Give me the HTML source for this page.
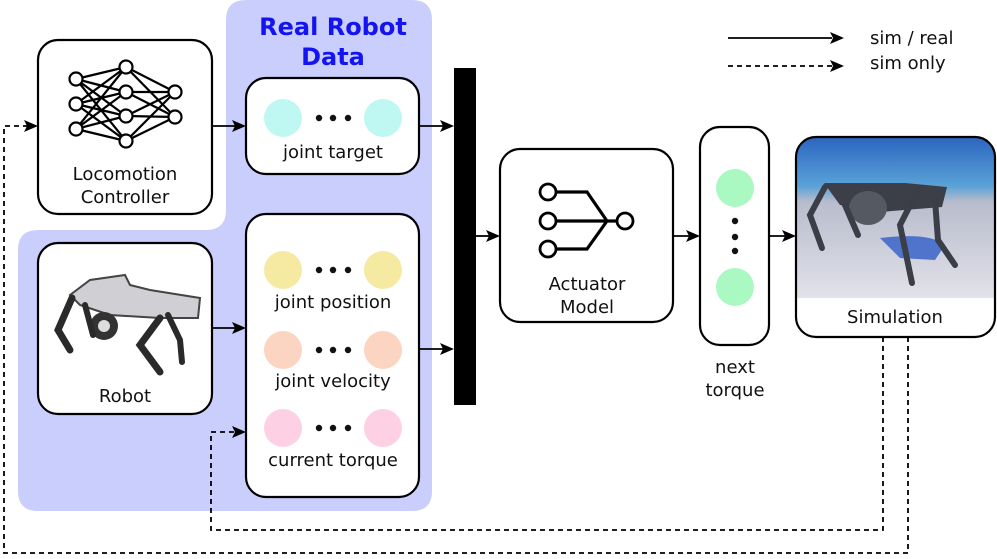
<!DOCTYPE html>
<html><head><meta charset="utf-8"><style>
html,body{margin:0;padding:0;background:#fff;}
svg{display:block;}
text{font-family:"DejaVu Sans","Liberation Sans",sans-serif;font-size:18px;fill:#111;}
</style></head><body>
<svg width="997" height="559" viewBox="0 0 997 559" xmlns="http://www.w3.org/2000/svg">
<defs>
<linearGradient id="sky" x1="0" y1="0" x2="0" y2="1"><stop offset="0" stop-color="#2c66c0"/><stop offset="0.3" stop-color="#5aa2d8"/><stop offset="0.4" stop-color="#b8bccc"/><stop offset="1" stop-color="#e2e2ea"/></linearGradient>
<clipPath id="simclip"><rect x="797" y="138" width="197" height="198" rx="18"/></clipPath>
</defs>
<path d="M246,0 H412 Q432,0 432,20 V491 Q432,511 412,511 H38 Q18,511 18,491 V250 Q18,230 38,230 H206 Q226,230 226,210 V20 Q226,0 246,0 Z" fill="#c9cefc"/>
<text x="333" y="35" text-anchor="middle" style="font-size:24px;font-weight:bold;fill:#1414f0">Real Robot</text>
<text x="333" y="65" text-anchor="middle" style="font-size:24px;font-weight:bold;fill:#1414f0">Data</text>

<line x1="728" y1="38" x2="832" y2="38" stroke="#000" stroke-width="1.8"/>
<line x1="728" y1="66" x2="832" y2="66" stroke="#000" stroke-width="1.8" stroke-dasharray="5,4"/>
<text x="870" y="44">sim / real</text>
<text x="870" y="69">sim only</text>

<rect x="38" y="40" width="174" height="174" rx="20" fill="#fff" stroke="#000" stroke-width="2.2"/>
<g stroke="#000" stroke-width="2.2" fill="none">
<path d="M76,79 L126,67 M76,79 L126,92 M76,79 L126,116 M76,79 L126,141 M76,104 L126,67 M76,104 L126,92 M76,104 L126,116 M76,104 L126,141 M76,129 L126,67 M76,129 L126,92 M76,129 L126,116 M76,129 L126,141 M126,67 L175,92 M126,67 L175,117 M126,92 L175,92 M126,92 L175,117 M126,116 L175,92 M126,116 L175,117 M126,141 L175,92 M126,141 L175,117"/>
</g>
<g fill="#fff" stroke="#000" stroke-width="2.2">
<circle cx="76" cy="79" r="6.5"/><circle cx="76" cy="104" r="6.5"/><circle cx="76" cy="129" r="6.5"/>
<circle cx="126" cy="67" r="6.5"/><circle cx="126" cy="92" r="6.5"/><circle cx="126" cy="116" r="6.5"/><circle cx="126" cy="141" r="6.5"/>
<circle cx="175" cy="92" r="6.5"/><circle cx="175" cy="117" r="6.5"/>
</g>
<text x="125" y="180" text-anchor="middle">Locomotion</text>
<text x="125" y="203" text-anchor="middle">Controller</text>

<rect x="246" y="78" width="173" height="96" rx="20" fill="#fff" stroke="#000" stroke-width="2.2"/>
<circle cx="283" cy="118" r="19" fill="#bff8f2"/><circle cx="383" cy="118" r="19" fill="#bff8f2"/>
<g fill="#111"><circle cx="319" cy="118" r="3.2"/><circle cx="333" cy="118" r="3.2"/><circle cx="348" cy="118" r="3.2"/></g>
<text x="333" y="158" text-anchor="middle">joint target</text>

<rect x="38" y="243" width="174" height="171" rx="20" fill="#fff" stroke="#000" stroke-width="2.2"/>
<g>
<path d="M70,295 L90,280 L125,275 L130,285 L150,290 L200,298 L198,318 L160,318 L110,315 L80,305 Z" fill="#d0d0d4" stroke="#444" stroke-width="2"/>
<circle cx="104" cy="326" r="14" fill="#333"/><circle cx="104" cy="326" r="6" fill="#ddd"/>
<g stroke="#2a2a2a" stroke-linecap="round" fill="none">
<path d="M72,298 L58,330 L70,350" stroke-width="7"/>
<path d="M85,305 L93,335" stroke-width="6"/>
<path d="M160,318 L140,345 L160,372" stroke-width="7"/>
<path d="M168,315 L180,340 L182,362" stroke-width="6"/>
</g>
</g>
<text x="125" y="402" text-anchor="middle">Robot</text>

<rect x="246" y="214" width="173" height="283" rx="20" fill="#fff" stroke="#000" stroke-width="2.2"/>
<circle cx="283" cy="270" r="19" fill="#f6e9a2"/><circle cx="383" cy="270" r="19" fill="#f6e9a2"/>
<g fill="#111"><circle cx="319" cy="270" r="3.2"/><circle cx="333" cy="270" r="3.2"/><circle cx="348" cy="270" r="3.2"/></g>
<text x="333" y="308" text-anchor="middle">joint position</text>
<circle cx="283" cy="350" r="19" fill="#fcd5c2"/><circle cx="383" cy="350" r="19" fill="#fcd5c2"/>
<g fill="#111"><circle cx="319" cy="350" r="3.2"/><circle cx="333" cy="350" r="3.2"/><circle cx="348" cy="350" r="3.2"/></g>
<text x="333" y="387" text-anchor="middle">joint velocity</text>
<circle cx="283" cy="428" r="19" fill="#fdd0e3"/><circle cx="383" cy="428" r="19" fill="#fdd0e3"/>
<g fill="#111"><circle cx="319" cy="428" r="3.2"/><circle cx="333" cy="428" r="3.2"/><circle cx="348" cy="428" r="3.2"/></g>
<text x="333" y="466" text-anchor="middle">current torque</text>

<rect x="454" y="68" width="22" height="337" fill="#000"/>

<rect x="500" y="149" width="173" height="173" rx="20" fill="#fff" stroke="#000" stroke-width="2.2"/>
<g stroke="#000" stroke-width="3.2" fill="none">
<path d="M548,192 H587 L607,221 M548,221 H617 M548,249 H587 L607,221"/>
</g>
<g fill="#fff" stroke="#000" stroke-width="2.8">
<circle cx="548" cy="192" r="8"/><circle cx="548" cy="221" r="8"/><circle cx="548" cy="249" r="8"/><circle cx="625" cy="221" r="8"/>
</g>
<text x="587" y="290" text-anchor="middle">Actuator</text>
<text x="587" y="313" text-anchor="middle">Model</text>

<rect x="700" y="127" width="69" height="218" rx="20" fill="#fff" stroke="#000" stroke-width="2.2"/>
<circle cx="735" cy="188" r="19" fill="#aaf8c2"/><circle cx="735" cy="287" r="19" fill="#aaf8c2"/>
<g fill="#111"><circle cx="735" cy="221" r="3.2"/><circle cx="735" cy="237" r="3.2"/><circle cx="735" cy="251" r="3.2"/></g>
<text x="735" y="373" text-anchor="middle">next</text>
<text x="735" y="396" text-anchor="middle">torque</text>

<g clip-path="url(#simclip)">
<rect x="797" y="138" width="197" height="160" fill="url(#sky)"/>
<path d="M880,238 Q930,232 945,245 L935,260 L900,258 Z" fill="#3a64c8" opacity="0.85"/>
<path d="M824,183 L905,183 L947,187 L942,207 L880,212 L840,205 Z" fill="#3c3f48"/>
<ellipse cx="868" cy="208" rx="19" ry="17" fill="#555a62"/>
<g stroke="#3b3e46" stroke-width="6" stroke-linecap="round" fill="none">
<path d="M825,187 L810,215 L822,248"/>
<path d="M845,205 L858,235"/>
<path d="M918,190 L900,225 L912,283"/>
<path d="M935,200 L938,240 L955,265"/>
</g>
</g>
<rect x="796" y="137" width="199" height="200" rx="20" fill="none" stroke="#000" stroke-width="2.2"/>
<text x="895" y="323" text-anchor="middle">Simulation</text>

<g stroke="#000" stroke-width="1.8" fill="none">
<line x1="212" y1="126" x2="236" y2="126"/>
<line x1="419" y1="126" x2="444" y2="126"/>
<line x1="212" y1="328" x2="236" y2="328"/>
<line x1="419" y1="349" x2="444" y2="349"/>
<line x1="476" y1="236" x2="490" y2="236"/>
<line x1="673" y1="236" x2="690" y2="236"/>
<line x1="769" y1="236" x2="786" y2="236"/>
</g>
<g stroke="#000" stroke-width="1.8" fill="none" stroke-dasharray="5,4">
<path d="M883,337 V530 H211 V432 H236"/>
<path d="M908,337 V553 H4 V126 H28"/>
</g>
<g fill="#000">
<path d="M830,32 L844,38 L830,44 L833,38 Z"/>
<path d="M830,60 L844,66 L830,72 L833,66 Z"/>
<path d="M232,120 L246,126 L232,132 L235,126 Z"/>
<path d="M440,120 L454,126 L440,132 L443,126 Z"/>
<path d="M232,322 L246,328 L232,334 L235,328 Z"/>
<path d="M440,343 L454,349 L440,355 L443,349 Z"/>
<path d="M486,230 L500,236 L486,242 L489,236 Z"/>
<path d="M686,230 L700,236 L686,242 L689,236 Z"/>
<path d="M782,230 L796,236 L782,242 L785,236 Z"/>
<path d="M232,426 L246,432 L232,438 L235,432 Z"/>
<path d="M24,120 L38,126 L24,132 L27,126 Z"/>
</g>
</svg>
</body></html>
